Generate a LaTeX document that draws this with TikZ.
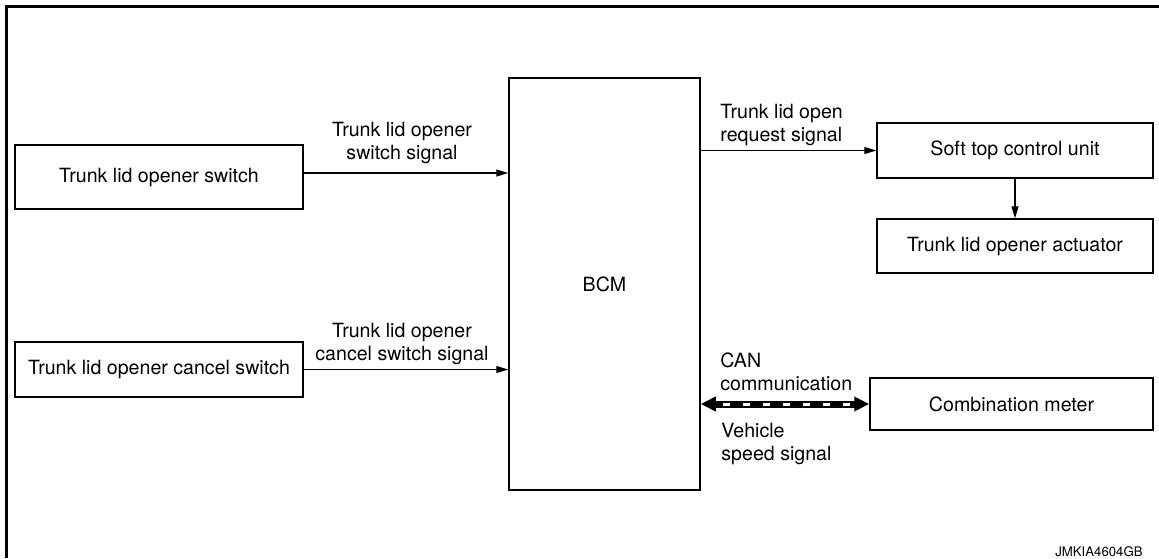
\documentclass[tikz,border=0pt]{standalone}
\usepackage{fontspec}
\setmainfont{TeX Gyre Heros}
\usetikzlibrary{arrows.meta}
\begin{document}
\begin{tikzpicture}[x=0.5pt, y=-0.5pt,
			box/.style={draw, line width=0.75pt, inner sep=0pt, minimum width=144pt, minimum height=27.5pt, font=\fontsize{9.8}{11.5}\selectfont},
			lbl/.style={inner sep=0pt, font=\fontsize{9.8}{11.5}\selectfont},
			sig/.style={line width=0.6pt, -{Triangle[length=6pt, width=3.5pt]}}
			]
			\useasboundingbox (0,0) rectangle (1159,558);
			% frame
			\draw[line width=1.5pt] (6.5,558) -- (6.5,6.5) -- (1159,6.5);
			% switches
			\node[box, minimum height=32pt] (sw1) at (159,177) {Trunk lid opener switch};
			\node[box] (sw2) at (159,369.5) {Trunk lid opener cancel switch};
			% BCM
			\node[box, minimum width=95.5pt, minimum height=206pt] (bcm) at (604.5,284) {BCM};
			% outputs
			\node[box, minimum width=138pt] (stcu) at (1015,150.5) {Soft top control unit};
			\node[box, minimum width=138pt, minimum height=27pt] (act) at (1015,246) {Trunk lid opener actuator};
			\node[box, minimum width=141.5pt, minimum height=26pt] (comb) at (1011.5,404) {Combination meter};
			% signals
			\draw[sig] ([yshift=2pt]sw1.east) -- ([yshift=2pt]sw1.east -| bcm.west);
			\draw[sig] (sw2.east) -- (sw2.east -| bcm.west);
			\draw[sig] (stcu.west -| bcm.east) -- (stcu.west);
			\draw[sig] (stcu.south) -- (act.north);
			\node[lbl, align=center] (l1) at (402,143) {Trunk lid opener\\switch signal};
			\node[lbl, align=center] (l2) at (402,344) {Trunk lid opener\\cancel switch signal};
			\node[lbl, align=left, anchor=west] (l3) at (720,124.5) {Trunk lid open\\request signal};
			% CAN
			\coordinate (c1) at (comb.west -| bcm.east);
			\draw[line width=3.5pt, {Triangle[length=7.5pt, width=7pt]}-{Triangle[length=7.5pt, width=7pt]}] (c1) -- (comb.west);
			\draw[white, line width=1.5pt, dash pattern=on 3.5pt off 6.5pt, shorten <=11pt, shorten >=9pt] (c1) -- (comb.west);
			\node[lbl, align=left, anchor=west] (l4) at (720,372) {CAN\\communication};
			\node[lbl, align=left, anchor=west] (l5) at (721,443.5) {Vehicle\\speed signal};
			\node[inner sep=0pt, anchor=east, font=\fontsize{6.6}{8}\selectfont] (ref) at (1143,552) {JMKIA4604GB};
		\end{tikzpicture}
\end{document}
